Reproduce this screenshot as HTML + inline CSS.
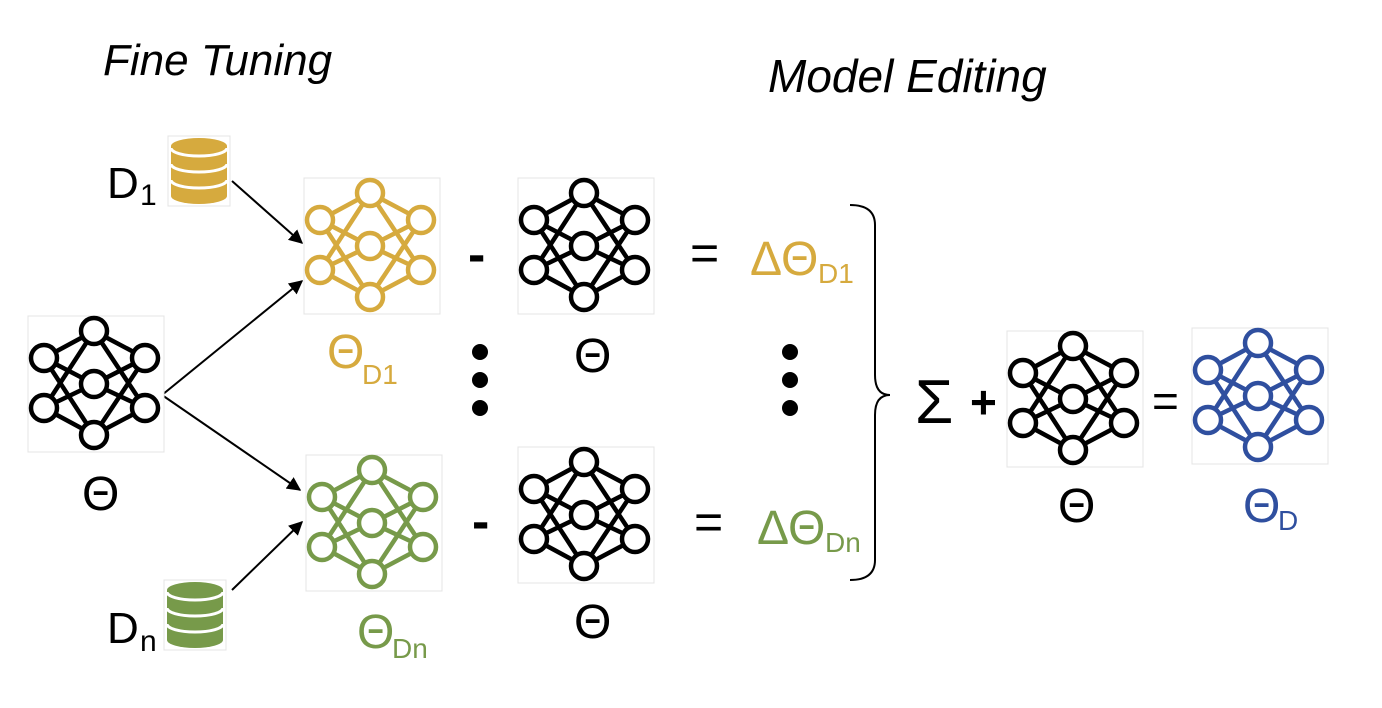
<!DOCTYPE html>
<html><head><meta charset="utf-8"><style>
html,body{margin:0;padding:0;background:#fff;}
svg{display:block;font-family:"Liberation Sans",sans-serif;}
</style></head><body>
<svg width="1382" height="708" viewBox="0 0 1382 708" xmlns="http://www.w3.org/2000/svg">
<defs>
<g id="nn" fill="#fff" stroke-width="4.5">
<rect x="0" y="0" width="136" height="136" fill="#fff" stroke="#e4e4e4" stroke-width="1"/>
<g fill="none">
<path d="M66 15L16 42M66 15L117 42M66 15L16 92M66 15L117 92M16 42L66 68M117 42L66 68M16 92L66 68M117 92L66 68M16 42L66 119M117 42L66 119M16 92L66 119M117 92L66 119"/>
</g>
<circle cx="66" cy="15" r="13"/><circle cx="16" cy="42" r="13"/><circle cx="117" cy="42" r="13"/>
<circle cx="66" cy="68" r="13"/><circle cx="16" cy="92" r="13"/><circle cx="117" cy="92" r="13"/>
<circle cx="66" cy="119" r="13"/>
</g>
<g id="db">
<rect x="0" y="0" width="62" height="70" fill="#fff" stroke="#e4e4e4" stroke-width="1"/>
<path d="M3 10 A28 8 0 0 1 59 10 L59 60 A28 8 0 0 1 3 60 Z"/>
<g fill="none" stroke="#fff" stroke-width="3">
<path d="M3 12 A28 8 0 0 0 59 12"/><path d="M3 28 A28 8 0 0 0 59 28"/><path d="M3 44 A28 8 0 0 0 59 44"/>
</g>
</g>
<marker id="ah" viewBox="0 0 10 10" refX="9" refY="5" markerWidth="7" markerHeight="7" orient="auto"><path d="M0 0L10 5L0 10z" fill="#000"/></marker>
</defs>

<text x="103" y="75" font-size="44" font-style="italic">Fine Tuning</text>
<text x="768" y="92" font-size="46" font-style="italic">Model Editing</text>

<g fill="#d6aa3e"><use href="#db" x="168" y="136"/></g>
<g fill="#779a4a"><use href="#db" x="164" y="580"/></g>

<text x="107" y="198" font-size="44">D</text><text x="140" y="205" font-size="30">1</text>
<text x="107" y="643" font-size="44">D</text><text x="140" y="651" font-size="30">n</text>

<g stroke="#000" stroke-width="2" fill="none" marker-end="url(#ah)">
<line x1="232" y1="181" x2="302" y2="243"/>
<line x1="162" y1="395" x2="302" y2="281"/>
<line x1="162" y1="395" x2="300" y2="490"/>
<line x1="232" y1="590" x2="302" y2="522"/>
</g>

<g stroke="#000"><use href="#nn" x="28" y="316"/><use href="#nn" x="518" y="178"/><use href="#nn" x="518" y="447"/><use href="#nn" x="1007" y="331"/></g>
<g stroke="#d6aa3e"><use href="#nn" x="304" y="178"/></g>
<g stroke="#779a4a"><use href="#nn" x="306" y="455"/></g>
<g stroke="#2f4f9f"><use href="#nn" x="1192" y="328"/></g>

<text x="82" y="510" font-size="48">Θ</text>
<text x="327" y="368" font-size="48" fill="#d6aa3e">Θ</text><text x="362" y="384" font-size="28" fill="#d6aa3e">D1</text>
<text x="574" y="372" font-size="48">Θ</text>
<text x="357" y="648" font-size="48" fill="#779a4a">Θ</text><text x="392" y="658" font-size="28" fill="#779a4a">Dn</text>
<text x="574" y="638" font-size="48">Θ</text>

<text x="468" y="272" font-size="52" font-weight="bold">-</text>
<text x="472" y="539" font-size="52" font-weight="bold">-</text>
<text x="690" y="270" font-size="50">=</text>
<text x="694" y="539" font-size="50">=</text>

<text x="750" y="275" font-size="48" fill="#d6aa3e">ΔΘ</text><text x="818" y="283" font-size="28" fill="#d6aa3e">D1</text>
<text x="757" y="544" font-size="48" fill="#779a4a">ΔΘ</text><text x="825" y="552" font-size="28" fill="#779a4a">Dn</text>

<g fill="#000"><circle cx="480" cy="352" r="8"/><circle cx="480" cy="380" r="8"/><circle cx="480" cy="408" r="8"/>
<circle cx="790" cy="352" r="8"/><circle cx="790" cy="380" r="8"/><circle cx="790" cy="408" r="8"/></g>

<path d="M850 205 Q875 205 875 225 L875 375 Q875 395 890 395 Q875 395 875 415 L875 560 Q875 580 850 580" fill="none" stroke="#000" stroke-width="2"/>

<text x="915" y="423" font-size="62">Σ</text>
<text x="970" y="418" font-size="46" font-weight="bold">+</text>
<text x="1152" y="417" font-size="46">=</text>
<text x="1058" y="522" font-size="48">Θ</text>
<text x="1243" y="522" font-size="48" fill="#2f4f9f">Θ</text><text x="1278" y="530" font-size="28" fill="#2f4f9f">D</text>
</svg>
</body></html>
